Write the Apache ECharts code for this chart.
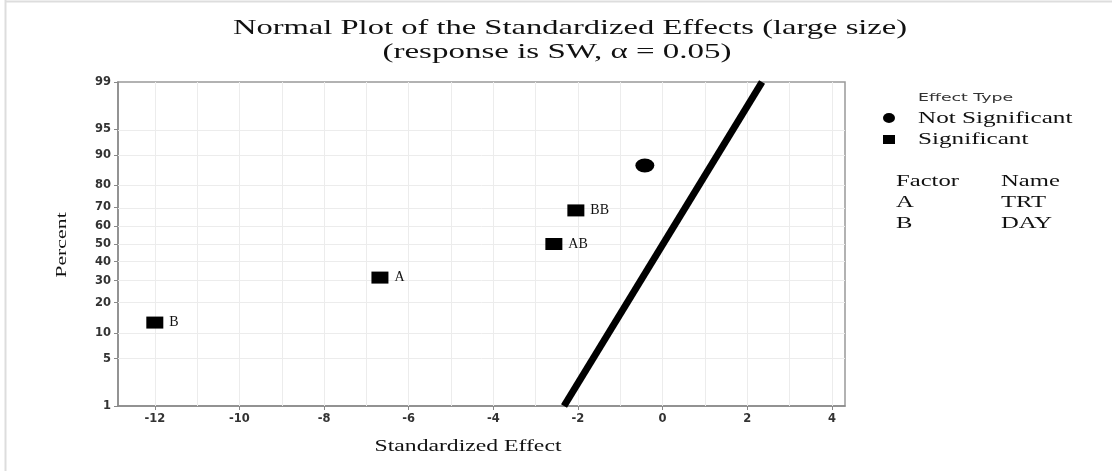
<!DOCTYPE html>
<html>
<head>
<meta charset="utf-8">
<title>Normal Plot of the Standardized Effects</title>
<script src="https://cdn.jsdelivr.net/npm/echarts@6/dist/echarts.min.js"></script>
<style>
  html, body { margin: 0; padding: 0; background: #fff; }
  #normalChart { width: 1112px; height: 471px; }
</style>
</head>
<body>
<div id="normalChart"></div>
<script>
// 效应数据
const sigTerms = ['B', 'A', 'AB', 'BB']
const sigEffects = [-12.0, -6.68, -2.57, -2.05]
const sigPercents = [12.96, 31.48, 50.0, 68.52]
const nsEffects = [-0.42]
const nsPercents = [87.04]
// 参考线端点
const refEffects = [-2.33, 2.35]
const refPercents = [1, 99]
// 坐标轴刻度
const xTicks = [-12, -10, -8, -6, -4, -2, 0, 2, 4]
const xGrid = [-12, -11, -10, -9, -8, -7, -6, -5, -4, -3, -2, -1, 0, 1, 2, 3, 4]
const yTickPercents = [1, 5, 10, 20, 30, 40, 50, 60, 70, 80, 90, 95, 99]
const factorRows = [['Factor', 'Name'], ['A', 'TRT'], ['B', 'DAY']]

// 正态分布逆函数 (Acklam)
function probit(p) {
  const a = [-3.969683028665376e+01, 2.209460984245205e+02, -2.759285104469687e+02, 1.383577518672690e+02, -3.066479806614716e+01, 2.506628277459239e+00]
  const b = [-5.447609879822406e+01, 1.615858368580409e+02, -1.556989798598866e+02, 6.680131188771972e+01, -1.328068155288572e+01]
  const c = [-7.784894002430293e-03, -3.223964580411365e-01, -2.400758277161838e+00, -2.549732539343734e+00, 4.374664141464968e+00, 2.938163982698783e+00]
  const d = [7.784695709041462e-03, 3.224671290700398e-01, 2.445134137142996e+00, 3.754408661907416e+00]
  const pl = 0.02425
  let q, r
  if (p < pl) {
    q = Math.sqrt(-2 * Math.log(p))
    return (((((c[0] * q + c[1]) * q + c[2]) * q + c[3]) * q + c[4]) * q + c[5]) / ((((d[0] * q + d[1]) * q + d[2]) * q + d[3]) * q + 1)
  }
  if (p > 1 - pl) {
    q = Math.sqrt(-2 * Math.log(1 - p))
    return -(((((c[0] * q + c[1]) * q + c[2]) * q + c[3]) * q + c[4]) * q + c[5]) / ((((d[0] * q + d[1]) * q + d[2]) * q + d[3]) * q + 1)
  }
  q = p - 0.5
  r = q * q
  return (((((a[0] * r + a[1]) * r + a[2]) * r + a[3]) * r + a[4]) * r + a[5]) * q / (((((b[0] * r + b[1]) * r + b[2]) * r + b[3]) * r + b[4]) * r + 1)
}

const z = (pct) => probit(pct / 100)
const yTickZ = yTickPercents.map(z)
const serif = 'Liberation Serif'
const sans = 'DejaVu Sans'

const myChart = echarts.init(document.getElementById('normalChart'))

const graphicTexts = [
  { x: 570, y: 28, text: 'Normal Plot of the Standardized Effects (large size)', font: serif, size: 22, align: 'center', sx: 1.48 },
  { x: 557, y: 52, text: '(response is SW, α = 0.05)', font: serif, size: 22, align: 'center', sx: 1.5 },
  { x: 468, y: 447, text: 'Standardized Effect', font: serif, size: 16, align: 'center', sx: 1.48 },
  { x: 918, y: 98, text: 'Effect Type', font: sans, size: 10.5, align: 'left', sx: 1.65, color: '#333' },
  { x: 918, y: 119, text: 'Not Significant', font: serif, size: 17, align: 'left', sx: 1.48 },
  { x: 918, y: 140, text: 'Significant', font: serif, size: 17, align: 'left', sx: 1.48 }
]
factorRows.forEach((row, i) => {
  graphicTexts.push({ x: 896, y: 182 + i * 21, text: row[0], font: serif, size: 17, align: 'left', sx: 1.45 })
  graphicTexts.push({ x: 1001, y: 182 + i * 21, text: row[1], font: serif, size: 17, align: 'left', sx: 1.45 })
})

const graphic = graphicTexts.map((t) => ({
  type: 'text',
  x: t.x,
  y: t.y,
  scaleX: t.sx,
  style: {
    text: t.text,
    fontFamily: t.font,
    fontSize: t.size,
    fill: t.color || '#111',
    textAlign: t.align,
    textVerticalAlign: 'middle'
  }
}))
graphic.push(
  {
    type: 'text',
    x: 62,
    y: 245,
    rotation: Math.PI / 2,
    scaleX: 1.15,
    scaleY: 0.8,
    style: { text: 'Percent', fontFamily: serif, fontSize: 19, fill: '#111', textAlign: 'center', textVerticalAlign: 'middle' }
  },
  { type: 'circle', shape: { cx: 889, cy: 118, r: 5 }, scaleX: 1.2, originX: 889, originY: 118, style: { fill: '#000' } },
  { type: 'rect', shape: { x: 883, y: 135, width: 12, height: 9 }, style: { fill: '#000' } },
  { type: 'line', shape: { x1: 5, y1: 1.5, x2: 1112, y2: 1.5 }, style: { stroke: '#ddd', lineWidth: 2 } },
  { type: 'line', shape: { x1: 5.5, y1: 0, x2: 5.5, y2: 471 }, style: { stroke: '#ddd', lineWidth: 2 } }
)

const tickLabel = {
  color: '#333',
  fontFamily: sans,
  fontSize: 11.5,
  fontWeight: 'bold',
  margin: 7
}

const chartOption = {
  animation: false,
  backgroundColor: '#fff',
  grid: {
    left: 118,
    right: 267,
    top: 82,
    bottom: 65,
    show: true,
    borderColor: '#999',
    borderWidth: 1.5
  },
  xAxis: {
    type: 'value',
    min: -12.87,
    max: 4.31,
    axisLine: { onZero: false, lineStyle: { color: '#888', width: 1.5 } },
    axisTick: { show: true, length: 4, customValues: xTicks, lineStyle: { color: '#888' } },
    axisLabel: Object.assign({ customValues: xTicks }, tickLabel),
    splitLine: { show: false }
  },
  yAxis: {
    type: 'value',
    min: z(1),
    max: z(99),
    axisLine: { show: true, onZero: false, lineStyle: { color: '#888', width: 1.5 } },
    axisTick: { show: true, length: 4, customValues: yTickZ, lineStyle: { color: '#888' } },
    axisLabel: Object.assign({
      customValues: yTickZ,
      formatter: (v) => {
        const i = yTickZ.findIndex((t) => Math.abs(t - v) < 1e-6)
        return i >= 0 ? String(yTickPercents[i]) : ''
      }
    }, tickLabel),
    splitLine: { show: false }
  },
  graphic: graphic,
  series: [
    {
      name: 'grid',
      type: 'line',
      data: [],
      silent: true,
      z: 1,
      markLine: {
        z: 1,
        silent: true,
        symbol: ['none', 'none'],
        label: { show: false },
        lineStyle: { color: '#ececec', width: 1, type: 'solid' },
        emphasis: { disabled: true },
        data: xGrid.map((v) => ({ xAxis: v })).concat(yTickZ.slice(1, -1).map((v) => ({ yAxis: v })))
      }
    },
    {
      name: 'Reference',
      type: 'line',
      z: 3,
      symbol: 'none',
      silent: true,
      lineStyle: { color: '#000', width: 7 },
      data: refEffects.map((x, i) => [x, z(refPercents[i])])
    },
    {
      name: 'Not Significant',
      type: 'scatter',
      z: 4,
      symbol: 'circle',
      symbolSize: [19, 14],
      itemStyle: { color: '#000', opacity: 1 },
      data: nsEffects.map((x, i) => [x, z(nsPercents[i])])
    },
    {
      name: 'Significant',
      type: 'scatter',
      z: 4,
      symbol: 'rect',
      symbolSize: [17, 12],
      itemStyle: { color: '#000', opacity: 1 },
      label: {
        show: true,
        position: 'right',
        distance: 6,
        fontFamily: serif,
        fontSize: 14,
        color: '#111',
        formatter: (p) => sigTerms[p.dataIndex]
      },
      data: sigEffects.map((x, i) => [x, z(sigPercents[i])])
    }
  ]
}

myChart.setOption(chartOption, true)
</script>
</body>
</html>
